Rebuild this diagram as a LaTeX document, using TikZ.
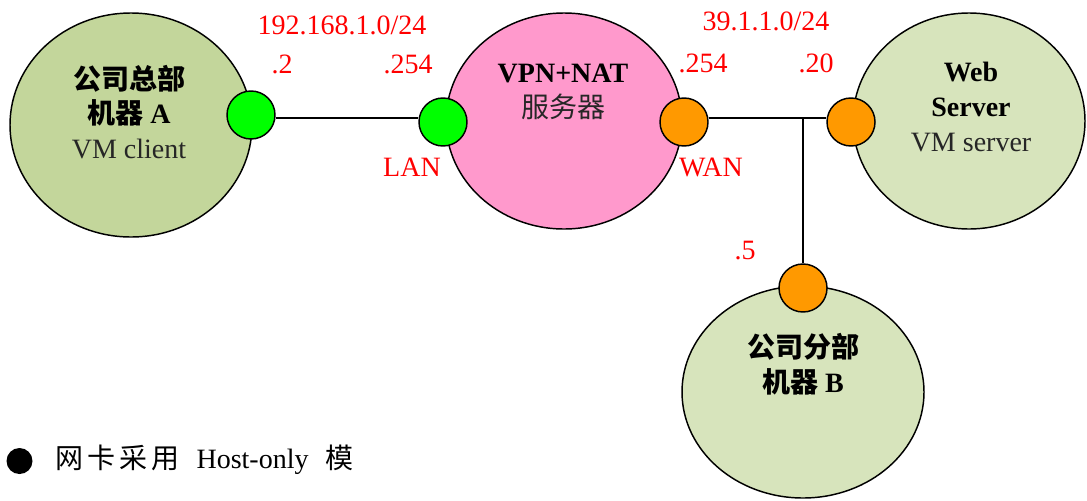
\documentclass[tikz,border=0pt]{standalone}
\usepackage{fontspec}
\setmainfont{Liberation Serif}
\newfontfamily\cjk{Noto Sans CJK SC}
\usetikzlibrary{shapes.geometric}
\definecolor{hostA}{HTML}{C3D69B}
\definecolor{hostB}{HTML}{D7E4BC}
\definecolor{vpnPink}{HTML}{FF99CC}
\definecolor{lanGreen}{HTML}{00FF00}
\definecolor{wanOrange}{HTML}{FF9900}
\newcommand{\zh}[1]{{\cjk #1}}

\begin{document}
\begin{tikzpicture}[x=0.75pt,y=-0.75pt,
  host/.style={ellipse,draw,line width=1.1pt,inner sep=0pt},
  nic/.style={circle,draw,line width=1.1pt,minimum size=36pt,inner sep=0pt},
  ip/.style={text=red,inner sep=0pt,font=\fontsize{21}{25}\selectfont},
  txt/.style={align=center,inner sep=0pt,font=\fontsize{21}{26}\selectfont},
  link/.style={line width=1.1pt}]
\useasboundingbox (0,0) rectangle (1087,500);
% hosts
\node[host,fill=hostA,minimum width=181.5pt,minimum height=168pt] (hostA) at (131,125) {};
\node[host,fill=vpnPink,minimum width=177pt,minimum height=162pt] (vpn) at (564,121) {};
\node[host,fill=hostB,minimum width=174pt,minimum height=162pt] (web) at (969,121) {};
\node[host,fill=hostB,minimum width=181.5pt,minimum height=159pt] (hostB) at (803,392) {};
% links
\coordinate (tee) at (803,118);
\node[nic,fill=lanGreen] (nicA) at (251,115) {};
\node[nic,fill=lanGreen] (nicLAN) at (443,122) {};
\node[nic,fill=wanOrange] (nicWAN) at (684,122) {};
\node[nic,fill=wanOrange] (nicWeb) at (851,122) {};
\node[nic,fill=wanOrange] (nicB) at (803,288) {};
\draw[link] (nicA.east |- tee) -- (nicLAN.west |- tee);
\draw[link] (nicWAN.east |- tee) -- (nicWeb.west |- tee);
\draw[link] (tee) -- (nicB.north);
% host texts
\node[txt] (txtA) at (129,112) {\bfseries\zh{公司总部}\\\bfseries\zh{机器} A\\\textcolor{black!85}{VM client}};
\node[txt] (txtVPN) at (563,92) {\bfseries VPN+NAT\\\textcolor{black!85}{\zh{服务器}}};
\node[txt] (txtWeb) at (971,107) {\bfseries Web\\\bfseries Server\\\textcolor{black!85}{VM server}};
\node[txt] (txtB) at (803,364) {\bfseries\zh{公司分部}\\\bfseries\zh{机器} B};
% addresses
\node[ip] (net1) at (342,25) {192.168.1.0/24};
\node[ip] (ipA) at (282,64) {.2};
\node[ip] (ipLAN) at (408,64) {.254};
\node[ip] (lan) at (412,167) {LAN};
\node[ip] (net2) at (766,21) {39.1.1.0/24};
\node[ip] (ipWAN) at (703,63) {.254};
\node[ip] (ipWeb) at (816,63) {.20};
\node[ip] (wan) at (711,167) {WAN};
\node[ip] (ipB) at (745,251) {.5};
% legend
\node[circle,fill=black,minimum size=19.5pt,inner sep=0pt] (bullet) at (19.5,461) {};
\node[anchor=west,inner sep=0pt,font=\fontsize{21}{25}\selectfont] (legend) at (55,460)
  {\zh{网\hspace{3pt}卡\hspace{3pt}采\hspace{3pt}用}\hspace{13pt}Host-only\hspace{13pt}\zh{模}};
\end{tikzpicture}
\end{document}
